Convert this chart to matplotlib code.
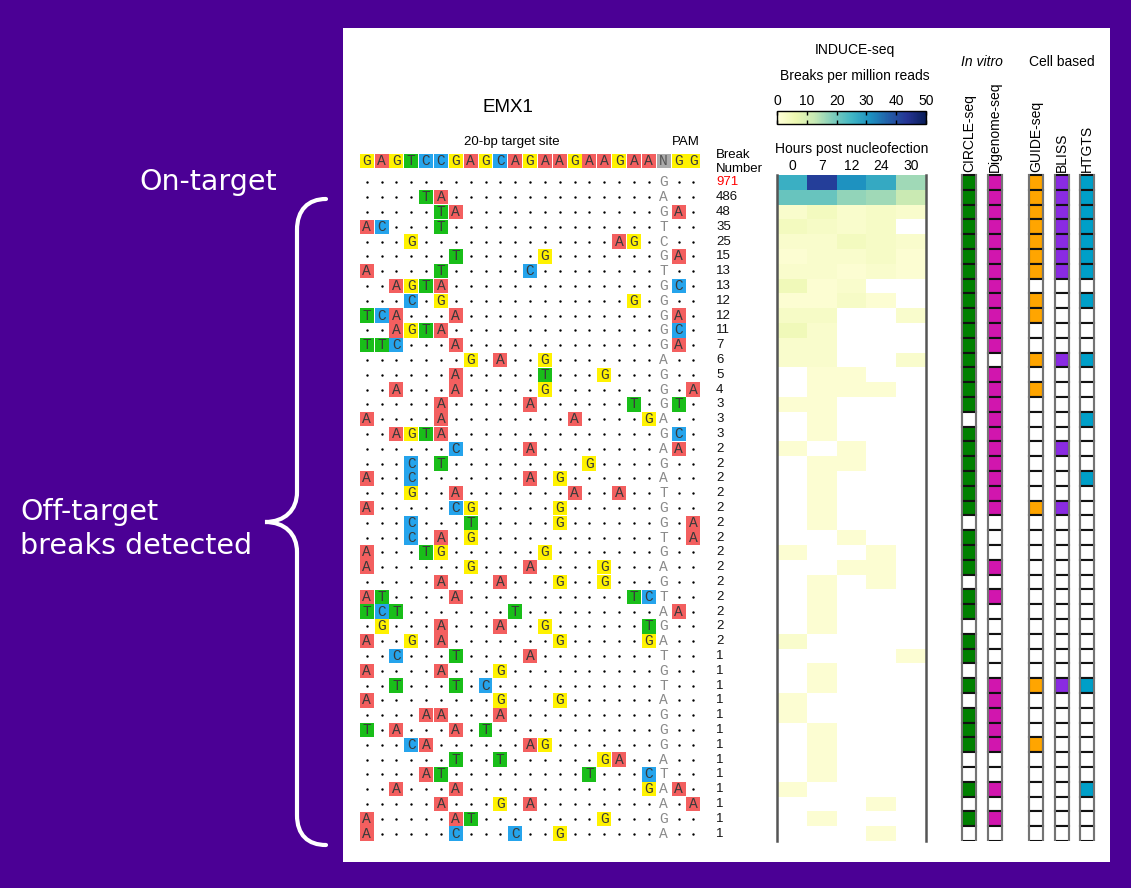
import numpy as np
import matplotlib
matplotlib.use("Agg")
import matplotlib.pyplot as plt
from matplotlib.patches import Rectangle, PathPatch
from matplotlib.path import Path

# ---------------- data ----------------
reference = "GAGTCCGAGCAGAAGAAGAA"
ref_pam = "NGG"
# mismatches in the 20-bp protospacer: "<position index><base>"
mismatches = [
    "", "4T 5A", "5T 6A", "0A 1C 5T", "3G 17A 18G", "6T 12G", "0A 5T 11C",
    "2A 3G 4T 5A", "3C 5G 18G", "0T 1C 2A 6A", "2A 3G 4T 5A", "0T 1T 2C 6A",
    "7G 9A 12G", "6A 12T 16G", "2A 6A 12G", "5A 11A 18T", "0A 5A 14A 19G",
    "2A 3G 4T 5A", "6C 11A", "3C 5T 15G", "0A 3C 11A 13G", "3G 6A 14A 17A",
    "0A 6C 7G 13G", "3C 7T 13G", "3C 5A 7G", "0A 4T 5G 12G", "0A 7G 11A 16G",
    "5A 9A 13G 16G", "0A 1T 6A 18T 19C", "0T 1C 2T 10T", "1G 5A 9A 12G 19T",
    "0A 3G 5A 13G 19G", "2C 6T 11A", "0A 5A 9G", "2T 6T 8C", "0A 9G 13G",
    "4A 5A 9A", "0T 2A 6A 8T", "3C 4A 11A 12G", "6T 9T 16G 17A",
    "4A 5T 15T 19C", "2A 6A 19G", "5A 9G 11A", "0A 6A 7T 16G", "0A 6C 10C 13G",
]
# PAM of each site ('.' = matches NGG)
pam = [
    "G..", "A..", "GA.", "T..", "C..", "GA.", "T..", "GC.", "G..", "GA.", "GC.",
    "GA.", "A..", "G..", "G.A", "GT.", "A..", "GC.", "AA.", "G..", "A..", "T..",
    "G..", "G.A", "T.A", "G..", "A..", "G..", "T..", "AA.", "G..", "A..", "T..",
    "G..", "T..", "A..", "G..", "G..", "G..", "A..", "T..", "AA.", "A.A", "G..",
    "A..",
]
break_number = [971, 486, 48, 35, 25, 15, 13, 13, 12, 12, 11, 7, 6, 5, 4, 3, 3, 3,
                2, 2, 2, 2, 2, 2, 2, 2, 2, 2, 2, 2, 2, 2,
                1, 1, 1, 1, 1, 1, 1, 1, 1, 1, 1, 1, 1]

hours = ["0", "7", "12", "24", "30"]
n = np.nan
induce = [
    [26, 42, 31, 27, 16], [21, 21, 17, 16, 12], [2, 4, 2, 3, 2], [4, 3, 2, 3, n],
    [2, 2, 4, 3, 2], [1, 2, 2, 3, 1], [2, 2, 1, 2, 1], [5, 1, 2, n, n],
    [1, 1, 3, 1, n], [3, 3, n, n, 2], [5, 2, n, n, n], [2, 2, n, n, n],
    [2, 2, n, n, 2], [n, 1, 1, n, n], [n, 1, 1, 1, n], [1, 1, n, n, n],
    [n, 1, n, n, n], [n, 1, n, n, n], [1, n, 1, n, n], [n, 1, 1, n, n],
    [n, 1, n, n, n], [n, 1, n, n, n], [n, 1, n, n, n], [n, 1, n, n, n],
    [n, n, 1, n, n], [1, n, n, 1, n], [n, n, 1, 1, n], [n, 1, n, 1, n],
    [n, 1, n, n, n], [n, 1, n, n, n], [n, 1, n, n, n], [2, n, n, n, n],
    [n, n, n, n, 1], [n, 1, n, n, n], [n, 1, n, n, n], [1, n, n, n, n],
    [1, n, n, n, n], [n, 1, n, n, n], [n, 1, n, n, n], [n, 1, n, n, n],
    [n, 1, n, n, n], [1, n, n, n, n], [n, n, n, 1, n], [n, 1, n, n, n],
    [n, n, n, 1, n],
]

methods = ["CIRCLE-seq", "Digenome-seq", "GUIDE-seq", "BLISS", "HTGTS"]
method_colors = ["#008000", "#D116AE", "#FFA500", "#8A2BE2", "#009FC8"]
detected = [
    "111111111111111101111110111011011010111001010",  # CIRCLE-seq
    "111111111111011111111110001010000011111001010",  # Digenome-seq
    "111111101100101000000010000000000010001000000",  # GUIDE-seq
    "111111100000100000100010000000000010000000000",  # BLISS
    "111111101000100010001000000000000010000001000",  # HTGTS
]

# ---------------- styling / layout ----------------
base_colors = {"A": "#F35F5F", "C": "#25A4EC", "G": "#FFF200", "T": "#19BE19", "N": "#ABABAB"}
W, H = 1131, 888
PURPLE = "#4B0095"
SANS = "Liberation Sans"
MONO = "Liberation Mono"
plt.rcParams["font.family"] = [SANS, "DejaVu Sans"]

fig = plt.figure(figsize=(W / 100, H / 100), dpi=100)
fig.patch.set_facecolor(PURPLE)


def add_ax(l, t, r, b):
    return fig.add_axes([l / W, 1 - b / H, (r - l) / W, (b - t) / H])


# background: white panel + brace + side labels
bg = add_ax(0, 0, W, H)
bg.set_xlim(0, W)
bg.set_ylim(H, 0)
bg.axis("off")
bg.add_patch(Rectangle((343, 28), 767, 834, fc="white", ec="none"))
verts = [(326, 199), (308, 199), (297, 210), (297, 230),
         (297, 492),
         (297, 510), (285, 522), (265, 522),
         (285, 522), (297, 534), (297, 552),
         (297, 815),
         (297, 835), (308, 845), (326, 845)]
codes = [Path.MOVETO, Path.CURVE4, Path.CURVE4, Path.CURVE4,
         Path.LINETO,
         Path.CURVE4, Path.CURVE4, Path.CURVE4,
         Path.CURVE4, Path.CURVE4, Path.CURVE4,
         Path.LINETO,
         Path.CURVE4, Path.CURVE4, Path.CURVE4]
bg.add_patch(PathPatch(Path(verts, codes), fc="none", ec="white", lw=3, capstyle="round"))
bg.text(208, 182, "On-target", color="white", fontsize=20.5, ha="center", va="center",
        family="DejaVu Sans")
bg.text(20, 512, "Off-target", color="white", fontsize=20.5, ha="left", va="center",
        family="DejaVu Sans")
bg.text(20, 546, "breaks detected", color="white", fontsize=20.5, ha="left", va="center",
        family="DejaVu Sans")

# geometry of the rows
ROW_TOP_PX = 175.0
ROW_PITCH = 14.8
ROW0_PX = ROW_TOP_PX + ROW_PITCH / 2
COL0_PX = 366.7
COL_PITCH = 14.85
nrows = len(break_number)


def ry(py):
    return (py - ROW0_PX) / ROW_PITCH


# ---------------- sequence panel ----------------
ax = add_ax(343, 28, 770, 841)
ax.set_xlim((343 - COL0_PX) / COL_PITCH, (770 - COL0_PX) / COL_PITCH)
ax.set_ylim(ry(841), ry(28))
ax.axis("off")


def letter_box(x, y, b, txtcolor="#3a3a3a"):
    ax.add_patch(Rectangle((x - 0.47, y - 0.48), 0.94, 0.96, fc=base_colors[b], ec="none"))
    ax.text(x, y, b, family=MONO, fontsize=10.5, color=txtcolor, ha="center", va="center")


head_y = ry(161)
full_ref = reference + ref_pam
for i, b in enumerate(full_ref):
    letter_box(i, head_y, b, "#555555" if b == "N" else "#3a3a3a")

dot_x, dot_y = [], []
for r in range(nrows):
    mm = {}
    for tok in mismatches[r].split():
        mm[int(tok[:-1])] = tok[-1]
    for c in range(len(reference)):
        if c in mm:
            letter_box(c, r, mm[c])
        else:
            dot_x.append(c)
            dot_y.append(r)
    p = pam[r]
    ax.text(len(reference), r, p[0], family=MONO, fontsize=10.5, color="#8a8a8a",
            ha="center", va="center")
    for k in (1, 2):
        c = len(reference) + k
        if p[k] == ".":
            dot_x.append(c)
            dot_y.append(r)
        else:
            letter_box(c, r, p[k])
    ax.text((716 - COL0_PX) / COL_PITCH, r, str(break_number[r]), fontsize=9.5,
            color="red" if r == 0 else "#111111", ha="left", va="center")
ax.scatter(dot_x, dot_y, s=3, c="black", linewidths=0)

ax.text((512 - COL0_PX) / COL_PITCH, ry(142), "20-bp target site", fontsize=9.5,
        ha="center", va="center")
ax.text((686 - COL0_PX) / COL_PITCH, ry(142), "PAM", fontsize=9.5, ha="center", va="center")
ax.text((716 - COL0_PX) / COL_PITCH, ry(155), "Break", fontsize=9.5, ha="left", va="center")
ax.text((716 - COL0_PX) / COL_PITCH, ry(169), "Number", fontsize=9.5, ha="left", va="center")
ax.text((508 - COL0_PX) / COL_PITCH, ry(108), "EMX1", fontsize=13.5, ha="center", va="center")

# ---------------- INDUCE-seq heatmap ----------------
hax = add_ax(777, ROW_TOP_PX, 926, ROW_TOP_PX + nrows * ROW_PITCH)
cmap = plt.get_cmap("YlGnBu").copy()
cmap.set_bad("white")
data = np.ma.masked_invalid(np.array(induce, dtype=float))
im = hax.imshow(data, cmap=cmap, vmin=0, vmax=50, aspect="auto", interpolation="nearest")
hax.set_xticks(range(len(hours)))
hax.set_xticklabels(hours, fontsize=10)
hax.xaxis.tick_top()
hax.tick_params(axis="x", length=0, pad=1.5)
hax.set_yticks([])
for s in ("top", "bottom"):
    hax.spines[s].set_visible(False)
for s in ("left", "right"):
    hax.spines[s].set_color("#555555")
    hax.spines[s].set_linewidth(1.8)

cax = add_ax(777, 111, 926, 124)
cb = fig.colorbar(im, cax=cax, orientation="horizontal", ticks=[0, 10, 20, 30, 40, 50])
cax.xaxis.set_ticks_position("both")
cax.tick_params(direction="in", length=3, width=1, labeltop=True, labelbottom=False,
                labelsize=10, pad=2)
cb.outline.set_linewidth(1)

fig.text(855 / W, 1 - 50 / H, "INDUCE-seq", fontsize=10, ha="center", va="center")
fig.text(855 / W, 1 - 76 / H, "Breaks per million reads", fontsize=10, ha="center", va="center")
fig.text(852 / W, 1 - 149 / H, "Hours post nucleofection", fontsize=10, ha="center", va="center")

# ---------------- method detection columns ----------------
M0_PX, M_PITCH = 969.3, 25.5
mx = [0, 1, 2.62, 3.62, 4.63]
bw = 14 / M_PITCH
max_ = add_ax(945, 28, 1105, 841)
max_.set_xlim((945 - M0_PX) / M_PITCH, (1105 - M0_PX) / M_PITCH)
max_.set_ylim(ry(841), ry(28))
max_.axis("off")
for j, (name, col, hits) in enumerate(zip(methods, method_colors, detected)):
    x = mx[j]
    for r, h in enumerate(hits):
        max_.add_patch(Rectangle((x - bw / 2, r - 0.5), bw, 1,
                                 fc=col if h == "1" else "white", ec="#111111", lw=1.5))
    max_.plot([x - bw / 2, x - bw / 2], [-0.5, nrows - 0.5], color="#777777", lw=1.4)
    max_.plot([x + bw / 2, x + bw / 2], [-0.5, nrows - 0.5], color="#777777", lw=1.4)
    max_.text(x, -0.72, name, rotation=90, fontsize=10, ha="center", va="bottom")
max_.text((mx[0] + mx[1]) / 2, ry(62), "In vitro", fontsize=10, style="italic",
          ha="center", va="center")
max_.text(mx[3], ry(62), "Cell based", fontsize=10, ha="center", va="center")

fig.savefig("out.png", dpi=100, facecolor=fig.get_facecolor())
